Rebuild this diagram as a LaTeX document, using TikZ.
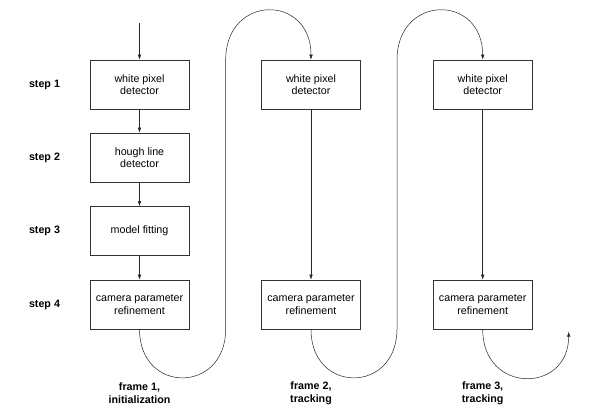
\documentclass[tikz,border=0pt]{standalone}
\usepackage{fontspec}
\setmainfont{Liberation Sans}
\usetikzlibrary{arrows.meta}
\begin{document}
\begin{tikzpicture}
[x=1pt,y=1pt,
 ar/.style={-{Latex[length=5pt,width=3.5pt]},line width=0.5pt,draw=black!85},
 bx/.style={draw=black!80,line width=0.6pt,minimum width=99pt,minimum height=49pt,align=center,font=\fontsize{10.7}{12.5}\selectfont},
 lb/.style={font=\fontsize{10.7}{12.8}\selectfont\bfseries,align=center}]
\useasboundingbox (0,0) rectangle (597,419);

% steps
\node [lb] at (44.5,334.5) (s1) {step 1};
\node [lb] at (44.5,261.5) (s2) {step 2};
\node [lb] at (44.5,188) (s3) {step 3};
\node [lb] at (44.5,114.5) (s4) {step 4};

% frame 1
\node [bx] at (139.5,334.5) (w1) {white pixel\\detector};
\node [bx] at (139.5,261.5) (h1) {hough line\\detector};
\node [bx] at (139.5,188) (m1) {model fitting};
\node [bx] at (139.5,114.5) (c1) {camera parameter\\refinement};
% frame 2
\node [bx] at (311,334.5) (w2) {white pixel\\detector};
\node [bx] at (311,114.5) (c2) {camera parameter\\refinement};
% frame 3
\node [bx] at (482.7,334.5) (w3) {white pixel\\detector};
\node [bx] at (482.7,114.5) (c3) {camera parameter\\refinement};

\node [lb] at (139.5,25.5) (f1) {frame 1,\\initialization};
\node [lb] at (311,25.5) (f2) {frame 2,\\tracking};
\node [lb] at (482.7,25.5) (f3) {frame 3,\\tracking};

\coordinate (in) at (139.5,396);
\coordinate (u1) at (225.7,90);
\coordinate (v1) at (225.7,359);
\coordinate (u2) at (397,90);
\coordinate (v2) at (397,359);
\coordinate (out) at (568.7,87.3);

\draw [ar] (in) -- (w1);
\draw [ar] (w1) -- (h1);
\draw [ar] (h1) -- (m1);
\draw [ar] (m1) -- (c1);
\draw [ar] (c1.south) .. controls +(0,-65) and +(0,-65) .. (u1) -- (v1)
  .. controls +(0,66) and +(0,66) .. (w2.north);
\draw [ar] (w2) -- (c2);
\draw [ar] (c2.south) .. controls +(0,-65) and +(0,-65) .. (u2) -- (v2)
  .. controls +(0,66) and +(0,66) .. (w3.north);
\draw [ar] (w3) -- (c3);
\draw [ar] (c3.south) .. controls +(0,-65) and +(0,-62) .. (out);
\end{tikzpicture}
\end{document}
